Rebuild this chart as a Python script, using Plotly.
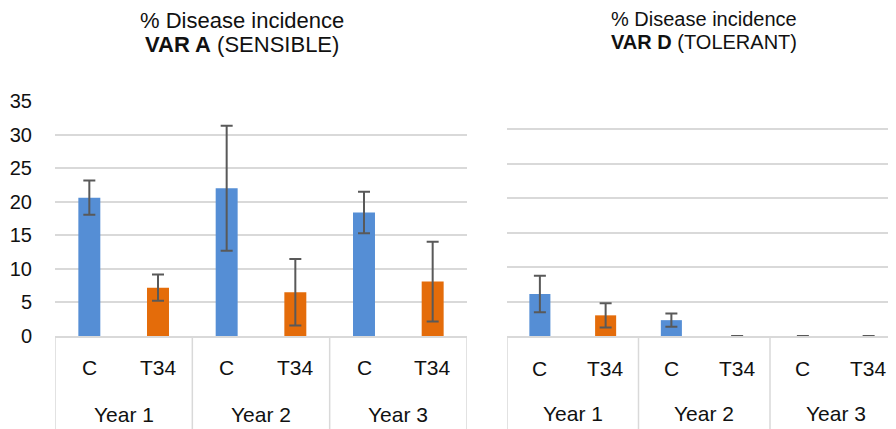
import plotly.graph_objects as go

# ---- data ----
years = ["Year 1", "Year 2", "Year 3"]
treatments = ["C", "T34"]

varA_C = [20.6, 22.0, 18.4]
varA_C_err = [2.55, 9.3, 3.1]
varA_T34 = [7.2, 6.5, 8.1]
varA_T34_err = [1.95, 4.95, 5.95]

varD_C = [6.1, 2.3, 0.0]
varD_C_err = [2.65, 0.97, 0.0]
varD_T34 = [3.0, 0.0, 0.0]
varD_T34_err = [1.75, 0.0, 0.0]

y_ticks = [0, 5, 10, 15, 20, 25, 30, 35]

# ---- styling ----
W, H = 896, 429
OFF = 8  # page body margin offset
BLUE = "#558ED5"
ORANGE = "#E46C0A"
ERR = "#595959"
GRID = "#D9D9D9"
FONT = "Liberation Sans"
TXT = "#111111"

# pixel geometry of plot areas (screen coordinates)
L_x0, L_x1, L_y0, L_y1 = 55, 467, 101, 336
R_x0, R_cat, R_y0, R_y1 = 507, 65.75, 95, 336

def px(v):
    return (v - OFF) / W

def py(v):
    return 1 - (v - OFF) / H

n_cat = len(years) * len(treatments)
xC = [i * 2 for i in range(len(years))]
xT = [i * 2 + 1 for i in range(len(years))]

fig = go.Figure()

def add_bars(xa, ya, c_vals, c_err, t_vals, t_err):
    fig.add_trace(go.Bar(
        x=xC, y=c_vals, width=0.32, marker=dict(color=BLUE, line=dict(width=0)),
        error_y=dict(type="data", array=c_err, visible=True, color=ERR, thickness=2, width=6),
        xaxis=xa, yaxis=ya, showlegend=False, name="C"))
    fig.add_trace(go.Bar(
        x=xT, y=t_vals, width=0.32, marker=dict(color=ORANGE, line=dict(width=0)),
        error_y=dict(type="data", array=t_err, visible=True, color=ERR, thickness=2, width=6),
        xaxis=xa, yaxis=ya, showlegend=False, name="T34"))

add_bars("x", "y", varA_C, varA_C_err, varA_T34, varA_T34_err)
add_bars("x2", "y2", varD_C, varD_C_err, varD_T34, varD_T34_err)

r_range_max = -0.5 + (W + OFF - R_x0) / R_cat

fig.update_layout(
    template="none",
    width=W, height=H, autosize=False,
    margin=dict(l=0, r=0, t=0, b=0, pad=0),
    paper_bgcolor="white", plot_bgcolor="white",
    font=dict(family=FONT, color=TXT),
    barmode="overlay",
    xaxis=dict(domain=[px(L_x0), px(L_x1)], range=[-0.5, n_cat - 0.5], automargin=False,
               showgrid=False, zeroline=False, showticklabels=False,
               showline=True, linecolor=GRID, linewidth=1.5, fixedrange=True),
    yaxis=dict(domain=[py(L_y1), py(L_y0)], range=[0, 35], tickvals=y_ticks, automargin=False,
               showgrid=True, gridcolor=GRID, gridwidth=1.5, zeroline=False,
               showline=False, ticks="", ticklabelstandoff=22,
               tickfont=dict(size=20, family=FONT, color=TXT), fixedrange=True),
    xaxis2=dict(domain=[px(R_x0), 1.0], range=[-0.5, r_range_max], anchor="y2", automargin=False,
                showgrid=False, zeroline=False, showticklabels=False,
                showline=True, linecolor=GRID, linewidth=1.5, fixedrange=True),
    yaxis2=dict(domain=[py(R_y1), py(R_y0)], range=[0, 35], tickvals=y_ticks, automargin=False,
                anchor="x2", showgrid=True, gridcolor=GRID, gridwidth=1.5,
                zeroline=False, showline=False, showticklabels=False, ticks="",
                fixedrange=True),
)

annotations = []
shapes = []
for xa, lab_y, yr_y in (("x", 367.5, 414), ("x2", 368, 413)):
    for i, yr in enumerate(years):
        for j, tr in enumerate(treatments):
            annotations.append(dict(
                x=i * 2 + j, y=py(lab_y), xref=xa, yref="paper", text=tr,
                showarrow=False, xanchor="center", yanchor="middle",
                font=dict(size=21, family=FONT, color=TXT)))
        annotations.append(dict(
            x=i * 2 + 0.5, y=py(yr_y), xref=xa, yref="paper", text=yr,
            showarrow=False, xanchor="center", yanchor="middle",
            font=dict(size=21, family=FONT, color=TXT)))
    for k in range(len(years) + 1):
        shapes.append(dict(type="line", xref=xa, yref="paper",
                           x0=k * 2 - 0.5, x1=k * 2 - 0.5,
                           y0=py(336), y1=0, line=dict(color=GRID, width=1.5)))

# titles
annotations += [
    dict(x=px(242), y=py(20), xref="paper", yref="paper", text="% Disease incidence",
         showarrow=False, xanchor="center", yanchor="middle",
         font=dict(size=22, family=FONT, color=TXT)),
    dict(x=px(242), y=py(45), xref="paper", yref="paper", text="<b>VAR A</b> (SENSIBLE)",
         showarrow=False, xanchor="center", yanchor="middle",
         font=dict(size=22, family=FONT, color=TXT)),
    dict(x=px(703.5), y=py(19), xref="paper", yref="paper", text="% Disease incidence",
         showarrow=False, xanchor="center", yanchor="middle",
         font=dict(size=20, family=FONT, color=TXT)),
    dict(x=px(703.5), y=py(42), xref="paper", yref="paper", text="<b>VAR D</b> (TOLERANT)",
         showarrow=False, xanchor="center", yanchor="middle",
         font=dict(size=20, family=FONT, color=TXT)),
]

fig.update_layout(annotations=annotations, shapes=shapes)

fig.write_html("out.html", config={"displayModeBar": False})
